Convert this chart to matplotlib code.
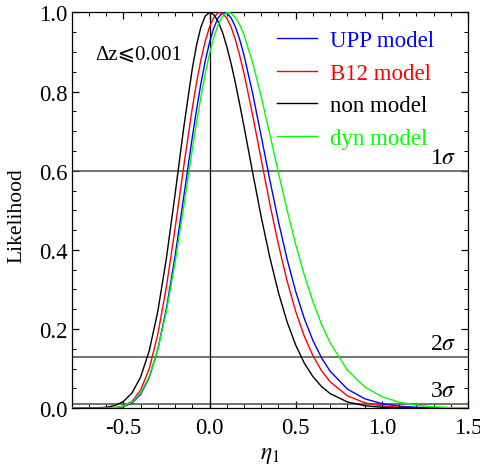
import matplotlib
matplotlib.use("Agg")
import matplotlib.pyplot as plt
from matplotlib.ticker import MultipleLocator, FormatStrFormatter
from matplotlib.lines import Line2D

plt.rcParams['font.family'] = ['Liberation Serif', 'DejaVu Serif', 'DejaVu Sans']
plt.rcParams['mathtext.fontset'] = 'stix'

# ---- data ----
eta1 = [-0.8, -0.7, -0.6, -0.55, -0.5, -0.45, -0.4, -0.35, -0.3, -0.25, -0.2, -0.15,
        -0.1, -0.075, -0.05, -0.025, 0.0, 0.025, 0.05, 0.075, 0.1, 0.125, 0.15, 0.175,
        0.2, 0.25, 0.3, 0.35, 0.4, 0.45, 0.5, 0.55, 0.6, 0.65, 0.7, 0.8, 0.9, 1.0,
        1.1, 1.2, 1.3, 1.4, 1.5]

upp = [0.0, 0.0, 0.0002, 0.0011, 0.0042, 0.0133, 0.0349, 0.0775, 0.149, 0.252, 0.384, 0.533,
       0.6845, 0.755, 0.820, 0.877, 0.924, 0.961, 0.986, 0.9985, 0.998, 0.986, 0.9635, 0.9315,
       0.892, 0.7955, 0.687, 0.5764, 0.4714, 0.3768, 0.295, 0.2267, 0.1712, 0.1274, 0.0935,
       0.0485, 0.0241, 0.0116, 0.0054, 0.0024, 0.0011, 0.0005, 0.0002]

b12 = [0.0, 0.0, 0.0002, 0.0013, 0.0054, 0.0174, 0.0456, 0.0996, 0.187, 0.3076, 0.454, 0.610,
       0.758, 0.823, 0.880, 0.927, 0.963, 0.987, 0.999, 0.998, 0.9855, 0.963, 0.931, 0.891,
       0.846, 0.741, 0.628, 0.516, 0.413, 0.3216, 0.2447, 0.182, 0.1328, 0.095, 0.0668,
       0.0314, 0.0139, 0.0059, 0.0024, 0.0009, 0.0003, 0.0001, 0.0]

non = [0.0, 0.0002, 0.0024, 0.0068, 0.0171, 0.0386, 0.0785, 0.145, 0.245, 0.3795, 0.540, 0.708,
       0.858, 0.918, 0.963, 0.9905, 1.0, 0.994, 0.977, 0.950, 0.914, 0.871, 0.822, 0.768,
       0.712, 0.596, 0.483, 0.381, 0.292, 0.2184, 0.1596, 0.114, 0.0799, 0.0549, 0.0370,
       0.0160, 0.0065, 0.0025, 0.0009, 0.0003, 0.0001, 0.0, 0.0]

dyn = [0.0, 0.0, 0.0004, 0.0016, 0.0054, 0.0157, 0.0381, 0.0802, 0.1484, 0.245, 0.368, 0.508,
       0.6527, 0.722, 0.786, 0.845, 0.8956, 0.937, 0.969, 0.990, 0.9994, 0.998, 0.987, 0.969,
       0.943, 0.873, 0.787, 0.692, 0.5948, 0.5009, 0.414, 0.3364, 0.269, 0.2122, 0.165,
       0.0964, 0.054, 0.0292, 0.0153, 0.0078, 0.0038, 0.0019, 0.0009]

series_names = ['UPP model', 'B12 model', 'non model', 'dyn model']
series_colors = ['#0000ff', '#ff0000', '#000000', '#00ff00']

sigma_levels = [0.60, 0.13, 0.01]
sigma_labels = ['1$\\sigma$', '2$\\sigma$', '3$\\sigma$']

# ---- figure ----
fig = plt.figure(figsize=(4.81, 4.77), dpi=100)
ax = fig.add_axes([0.149, 0.142, 0.824, 0.830])

for ys, c in zip([upp, b12, non, dyn], series_colors):
    ax.plot(eta1, ys, color=c, lw=1.0, zorder=3)

for lev, lab in zip(sigma_levels, sigma_labels):
    ax.axhline(lev, color='#4d4d4d', lw=1.1, zorder=2)
    ax.text(1.43, lev + 0.008, lab, ha='right', va='bottom', fontsize=17)

ax.axvline(0.0, color='black', lw=0.9, zorder=2)

ax.text(-0.665, 0.895, 'Δz⩽0.001', ha='left', va='center', fontsize=15)

ax.set_xlim(-0.8, 1.5)
ax.set_ylim(0.0, 1.0)
ax.xaxis.set_major_locator(MultipleLocator(0.5))
ax.xaxis.set_minor_locator(MultipleLocator(0.1))
ax.yaxis.set_major_locator(MultipleLocator(0.2))
ax.yaxis.set_minor_locator(MultipleLocator(0.05))
ax.xaxis.set_major_formatter(FormatStrFormatter('%.1f'))
ax.yaxis.set_major_formatter(FormatStrFormatter('%.1f'))
ax.tick_params(which='both', direction='in', top=True, right=True, labelsize=16.5)
ax.tick_params(which='major', length=5, width=0.9)
ax.tick_params(which='minor', length=3, width=0.7)
ax.tick_params(axis='x', which='major', pad=6)
ax.tick_params(axis='y', which='major', pad=3)
for s in ax.spines.values():
    s.set_linewidth(0.9)

ax.set_xlabel('$\\eta_1$', fontsize=17)
ax.xaxis.set_label_coords(0.5, -0.09)
ax.xaxis.label.set_va('top')
ax.set_ylabel('Likelihood', fontsize=15.5)
ax.yaxis.set_label_coords(-0.113, 0.49)

handles = [Line2D([], [], color=c, lw=1.0) for c in series_colors]
ax.legend(handles, series_names, loc='upper left', bbox_to_anchor=(0.495, 0.978),
          frameon=False, fontsize=16.5, handlelength=1.75, handletextpad=0.55,
          labelspacing=0.5, labelcolor=series_colors, borderaxespad=0.0)

fig.savefig('out.png', dpi=100)
